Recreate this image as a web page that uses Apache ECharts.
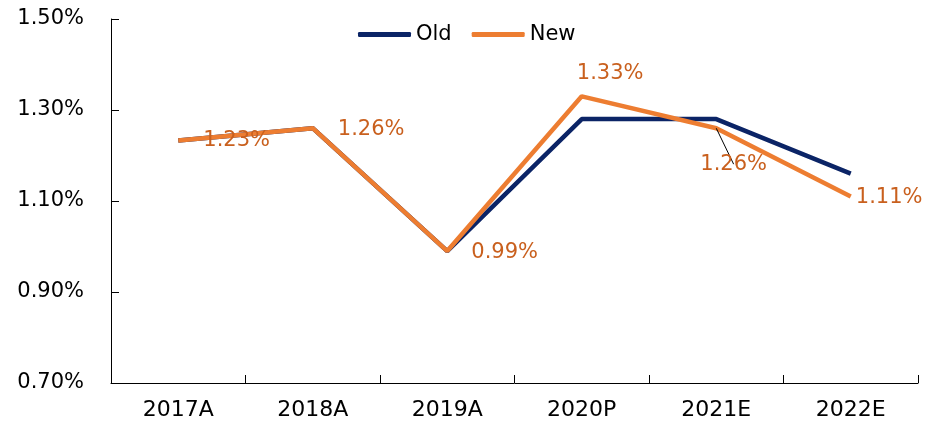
<!DOCTYPE html>
<html>
<head>
<meta charset="utf-8">
<script src="https://cdn.jsdelivr.net/npm/echarts@6/dist/echarts.min.js"></script>
<style>html,body{margin:0;padding:0;background:#fff}#c{width:941px;height:429px}</style>
</head>
<body>
<div id="c"></div>
<script>
const categories = ['2017A', '2018A', '2019A', '2020P', '2021E', '2022E'];
const oldValues = [1.233, 1.26, 0.99, 1.28, 1.28, 1.16];
const newValues = [1.233, 1.26, 0.99, 1.33, 1.26, 1.11];
const newLabels = ['1.23%', '1.26%', '0.99%', '1.33%', '1.26%', '1.11%'];
const labelOffsets = [[25, 0], [25, 1], [24, 1], [-5, -23], [-16, 36], [5, 1]];

const FONT = 'DejaVu Sans';
const chart = echarts.init(document.getElementById('c'), null, {renderer: 'canvas'});
chart.setOption({
  animation: false,
  backgroundColor: '#fff',
  grid: {left: 111, right: 23, top: 19, bottom: 46},
  legend: {
    left: 353, top: 19, itemWidth: 53, itemHeight: 5, itemGap: 20, icon: 'roundRect',
    textStyle: {fontFamily: FONT, fontSize: 21, color: '#000'},
    data: [{name: 'Old', itemStyle: {color: '#0b2466'}}, {name: 'New', itemStyle: {color: '#ED7D31'}}]
  },
  xAxis: {
    type: 'category', data: categories, boundaryGap: true,
    axisLine: {show: true, lineStyle: {color: '#000', width: 1}},
    axisTick: {show: true, interval: 0, inside: true, length: 8, lineStyle: {color: '#000', width: 1}},
    axisLabel: {fontFamily: FONT, fontSize: 22, color: '#000', margin: 16}
  },
  yAxis: {
    type: 'value', min: 0.7, max: 1.5, interval: 0.2,
    axisLine: {show: true, lineStyle: {color: '#000', width: 1}},
    axisTick: {show: true, inside: true, length: 8, lineStyle: {color: '#000', width: 1}},
    splitLine: {show: false},
    axisLabel: {fontFamily: FONT, fontSize: 21, color: '#000', margin: 27,
      formatter: v => v.toFixed(2) + '%'}
  },
  series: [
    {
      name: 'Old', type: 'line', data: oldValues, showSymbol: false, symbol: 'none',
      lineStyle: {color: '#0b2466', width: 4.5}, itemStyle: {color: '#0b2466'}
    },
    {
      name: 'New', type: 'line', showSymbol: true, symbol: 'circle', symbolSize: 0.1,
      lineStyle: {color: '#ED7D31', width: 4.5}, itemStyle: {color: '#ED7D31'},
      data: newValues.map((v, i) => ({
        value: v,
        label: {
          show: true, position: 'right', distance: 0, offset: labelOffsets[i],
          formatter: newLabels[i], fontFamily: FONT, fontSize: 21, color: '#C9601E'
        },
        labelLine: i === 4 ? {show: true, lineStyle: {color: '#000', width: 1}} : {show: false}
      }))
    }
  ]
});
</script>
</body>
</html>
